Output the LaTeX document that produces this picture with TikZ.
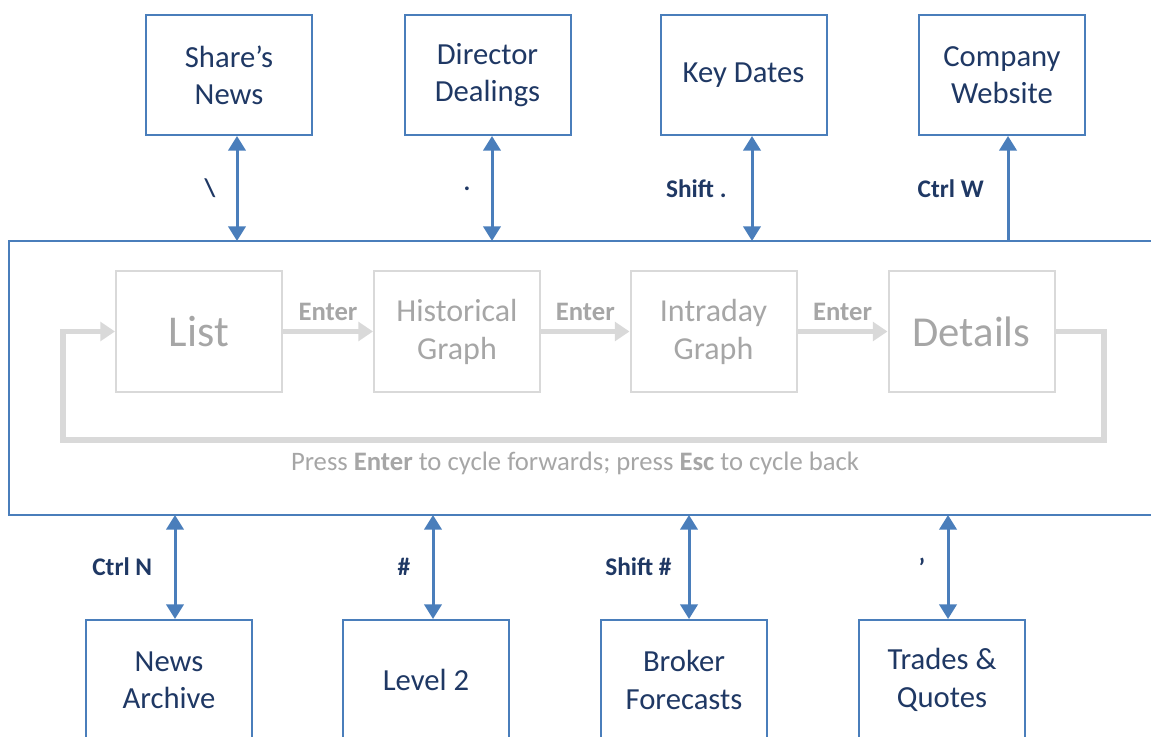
\documentclass[tikz,border=0pt]{standalone}
\usepackage{fontspec}
\setmainfont{Carlito}
\usetikzlibrary{positioning,arrows.meta}
\definecolor{LinkBlue}{RGB}{74,126,187}
\definecolor{TextBlue}{RGB}{31,56,100}
\definecolor{CycleGrey}{RGB}{217,217,217}
\definecolor{CycleText}{RGB}{166,166,166}

\begin{document}
\begin{tikzpicture}[x=0.75pt, y=-0.75pt,
  screen/.style={rectangle, draw=LinkBlue, line width=1.5pt, text=TextBlue, align=center, minimum width=124.5pt, minimum height=90pt, inner sep=0pt, font=\fontsize{23}{28}\selectfont},
  viewbox/.style={rectangle, draw=CycleGrey, line width=1.5pt, text=CycleText, align=center, minimum width=124.5pt, minimum height=90.75pt, inner sep=0pt, font=\fontsize{24}{28.5}\selectfont},
  keylabel/.style={text=TextBlue, inner sep=0pt, font=\fontsize{19}{22}\selectfont\bfseries},
  enterlabel/.style={text=CycleText, inner sep=0pt, font=\fontsize{20}{24}\selectfont\bfseries},
  linkarrow/.style={draw=LinkBlue, line width=2.25pt, {Triangle[length=11pt,width=13pt]}-{Triangle[length=11pt,width=13pt]}},
  cyclearrow/.style={draw=CycleGrey, line width=4.3pt, -{Triangle[length=11pt,width=14pt]}},
]
  \useasboundingbox (0,0) rectangle (1151,737);
  \clip (0,0) rectangle (1151,737);
  \node[rectangle, draw=LinkBlue, line width=1.5pt, minimum width=863.25pt, minimum height=205.5pt, inner sep=0pt] (frame) at (584.5,378) {};
  % top screens
  \node[screen] (shares) at (229,75) {Share’s\\News};
  \node[screen] (director) at (487.5,75) {Director\\Dealings};
  \node[screen] (keydates) at (743.5,75) {Key Dates};
  \node[screen] (website) at (1002,75) {Company\\Website};
  \coordinate (t1) at (237,241);
  \coordinate (t2) at (492,241);
  \coordinate (t3) at (752,241);
  \coordinate (t4) at (1008,241);
  \draw[linkarrow] (shares.south -| t1) -- node[keylabel, left=15pt] {\textbackslash} (t1);
  \draw[linkarrow] (director.south -| t2) -- node[keylabel, left=15pt] {.} (t2);
  \draw[linkarrow] (keydates.south -| t3) -- node[keylabel, left=18pt] {Shift .} (t3);
  \draw[linkarrow, -{Triangle[length=11pt,width=13pt]}] (t4) -- node[keylabel, left=17pt] {Ctrl W} (website.south -| t4);
  % cycle of views
  \node[viewbox, font=\fontsize{33}{36}\selectfont] (list) at (199,331.5) {List};
  \node[viewbox] (histgraph) at (457,331.5) {Historical\\Graph};
  \node[viewbox] (intragraph) at (713.5,331.5) {Intraday\\Graph};
  \node[viewbox, font=\fontsize{32}{36}\selectfont] (details) at (971.5,331.5) {Details};
  \draw[cyclearrow] (list) -- node[enterlabel, above=6pt] {Enter} (histgraph);
  \draw[cyclearrow] (histgraph) -- node[enterlabel, above=6pt] {Enter} (intragraph);
  \draw[cyclearrow] (intragraph) -- node[enterlabel, above=6pt] {Enter} (details);
  \coordinate (loopr) at (1104,440);
  \coordinate (loopl) at (63,440);
  \draw[cyclearrow] (details.east) -| (loopr) -- (loopl) |- (list.west);
  \node[text=CycleText, font=\fontsize{20}{24}\selectfont] (hint) at (575,463) {Press \textbf{Enter} to cycle forwards; press \textbf{Esc} to cycle back};
  % bottom screens
  \node[screen] (newsarch) at (169,680) {News\\Archive};
  \node[screen] (level2) at (426,680) {Level 2};
  \node[screen] (broker) at (684,680) {Broker\\Forecasts};
  \node[screen] (trades) at (942,680) {Trades \&\\Quotes};
  \coordinate (b1) at (175,515);
  \coordinate (b2) at (433,515);
  \coordinate (b3) at (689,515);
  \coordinate (b4) at (948,515);
  \draw[linkarrow] (b1) -- node[keylabel, left=16pt] {Ctrl N} (newsarch.north -| b1);
  \draw[linkarrow] (b2) -- node[keylabel, left=16pt] {\#} (level2.north -| b2);
  \draw[linkarrow] (b3) -- node[keylabel, left=12pt] {Shift \#} (broker.north -| b3);
  \draw[linkarrow] (b4) -- node[keylabel, left=16pt] {’} (trades.north -| b4);
\end{tikzpicture}
\end{document}
